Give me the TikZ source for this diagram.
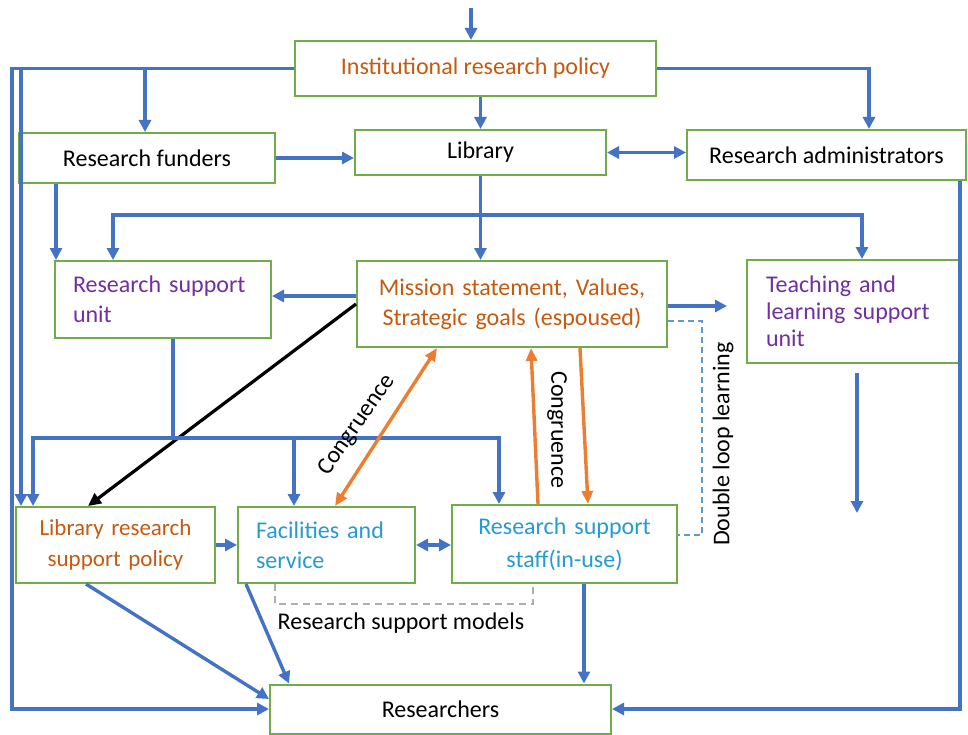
\documentclass[tikz,border=0pt]{standalone}
\usepackage{fontspec}
\setmainfont{Carlito}
\usetikzlibrary{arrows.meta,calc}
\definecolor{boxgreen}{RGB}{112,173,71}
\definecolor{flowblue}{RGB}{68,114,196}
\definecolor{txtorange}{RGB}{197,90,17}
\definecolor{arrorange}{RGB}{237,125,49}
\definecolor{txtpurple}{RGB}{112,48,160}
\definecolor{txtcyan}{RGB}{38,155,210}
\definecolor{bracketgray}{RGB}{175,175,175}
\definecolor{loopblue}{RGB}{91,155,213}

\begin{document}
\begin{tikzpicture}[x=1pt,y=-1pt,
  every node/.style={font=\fontsize{24}{30}\selectfont},
  box/.style={draw=boxgreen, line width=2pt, inner sep=0pt, fill=white},
  flow/.style={draw=flowblue, line width=3.4pt, -{Triangle[length=12pt,width=12pt]}},
  flowtwo/.style={draw=flowblue, line width=3.4pt, {Triangle[length=12pt,width=12pt]}-{Triangle[length=12pt,width=12pt]}},
  bus/.style={draw=flowblue, line width=3.4pt},
  congr/.style={draw=arrorange, line width=3.4pt, -{Triangle[length=13pt,width=11pt]}},
  congrtwo/.style={draw=arrorange, line width=3.4pt, {Triangle[length=13pt,width=11pt]}-{Triangle[length=13pt,width=11pt]}},
  policyline/.style={draw=black, line width=3.2pt, -{Triangle[length=13pt,width=12pt]}},
  loopline/.style={draw=loopblue, line width=1.4pt, dash pattern=on 6pt off 4pt},
  modelline/.style={draw=bracketgray, line width=2pt, dash pattern=on 7pt off 5pt},
]
\useasboundingbox (0,0) rectangle (968,735);

% ---------------- boxes ----------------
\node[box, minimum width=361, minimum height=55, text=txtorange] (inst) at (475.5,68.5) {Institutional research policy};
\node[box, minimum width=256, minimum height=50] (funders) at (147,158) {Research funders};
\node[box, minimum width=251, minimum height=45] (lib) at (480.5,152.5) {Library};
\node[box, minimum width=279, minimum height=50] (admin) at (826.5,155) {Research administrators};
\node[box, minimum width=216, minimum height=77, text=txtpurple, align=left, text width=180] (rsu) at (163,299.5) {Research support\\unit};
\node[box, minimum width=310, minimum height=86, text=txtorange, align=center, text width=292] (mission) at (512,304) {Mission statement, Values,\\Strategic goals (espoused)};
\node[box, minimum width=212, minimum height=103, text=txtpurple, align=left, text width=174,
      font=\fontsize{24}{27}\selectfont] (teach) at (853,311.5) {Teaching and\\learning support\\unit};
\node[box, minimum width=199, minimum height=76, text=txtorange, align=center, text width=180,
      font=\fontsize{23}{31}\selectfont] (lrsp) at (115.5,545) {Library research\\support policy};
\node[box, minimum width=177, minimum height=76, text=txtcyan, align=left, text width=141] (fac) at (326.5,545) {Facilities and\\service};
\node[box, minimum width=225, minimum height=78, text=txtcyan, align=center, text width=205,
      font=\fontsize{24}{33}\selectfont] (staff) at (564.5,544) {Research support\\staff(in-use)};
\node[box, minimum width=341, minimum height=49] (res) at (440.5,709) {Researchers};

% ---------------- reference points for connectors ----------------
\coordinate (entry) at (471,8);
\coordinate (outerL) at (12,0);
\coordinate (innerL) at (21,0);
\coordinate (fundtap) at (145,0);
\coordinate (admintap) at (869,0);
\coordinate (rsutap) at (56,0);
\coordinate (libbusL) at (113,215);
\coordinate (libbusR) at (862,215);
\coordinate (missionR) at (727,306);
\coordinate (loopA) at (702,321);
\coordinate (loopB) at (702,535);
\coordinate (unitdown) at (173,0);
\coordinate (busL) at (33,438);
\coordinate (busR) at (499,438);
\coordinate (factap) at (294,0);
\coordinate (policytap) at (88,0);
\coordinate (teachA) at (857,373);
\coordinate (teachB) at (857,513);
\coordinate (adminR) at (960,0);
\coordinate (stafftap) at (584,0);
\coordinate (modelL) at (275,604);
\coordinate (modelR) at (533,604);

% ---------------- institutional level ----------------
\draw[flow] (entry) -- (entry |- inst.north);
\draw[flow] (lib.north |- inst.south) -- (lib.north);
\draw[flow] (inst.west) -- (inst.west -| outerL) -- (res.west -| outerL) -- (res.west);
\draw[flow] (inst.west -| innerL) -- (lrsp.north -| innerL);
\draw[flow] (inst.west -| fundtap) -- (funders.north -| fundtap);
\draw[flow] (inst.east) -- (inst.east -| admintap) -- (admin.north -| admintap);
\draw[flow] (funders.east) -- (funders.east -| lib.west);
\draw[flowtwo] (lib.east) -- (lib.east -| admin.west);
\draw[flow] (funders.south -| rsutap) -- (rsu.north -| rsutap);

% ---------------- library level ----------------
\draw[flow] (lib.south) -- (lib.south |- mission.north);
\draw[flow] (libbusL -| lib.south) -- (libbusL) -- (libbusL |- rsu.north);
\draw[flow] (libbusR -| lib.south) -- (libbusR) -- (libbusR |- teach.north);
\draw[flow] ([yshift=8pt]mission.west) -- ([yshift=8pt]mission.west -| rsu.east);
\draw[flow] (mission.east |- missionR) -- (missionR);
\draw[policyline] (mission.west) -- (lrsp.north -| policytap);
\draw[loopline] (mission.east |- loopA) -- (loopA) -- (loopB) -- (loopB -| staff.east);
\node[rotate=90] (looptext) at (723,444) {Double loop learning};
\draw[flow] (teachA) -- (teachB);

% ---------------- research support unit bus ----------------
\draw[bus] (rsu.south -| unitdown) -- (busL -| unitdown);
\draw[flow] (busR) -- (busL) -- (busL |- lrsp.north);
\draw[flow] (busL) -- (busR) -- (busR |- staff.north);
\draw[flow] (busL -| factap) -- (fac.north -| factap);

% ---------------- congruence ----------------
\draw[congrtwo] ([xshift=8.5pt]fac.north) -- ([xshift=-75pt]mission.south);
\node[rotate=55] (congA) at (357,425) {Congruence};
\draw[congr] ([xshift=-26.5pt]staff.north) -- ([xshift=19pt]mission.south);
\draw[congr] ([xshift=68pt]mission.south) -- ([xshift=23.5pt]staff.north);
\node[rotate=-90] (congB) at (557,430) {Congruence};

% ---------------- support level ----------------
\draw[flow] (lrsp.east) -- (fac.west);
\draw[flowtwo] (fac.east) -- (fac.east -| staff.west);
\draw[modelline] (modelL |- fac.south) -- (modelL) -- (modelR) -- (modelR |- staff.south);
\node (models) at (401,623) {Research support models};

% ---------------- towards researchers ----------------
\draw[flow] ([xshift=-29.5pt]lrsp.south) -- ([yshift=10pt]res.west);
\draw[flow] ([xshift=9pt]fac.south west) -- ([xshift=20pt]res.north west);
\draw[flow] (staff.south -| stafftap) -- (res.north -| stafftap);
\draw[flow] (admin.south -| adminR) -- (adminR |- res.east) -- (res.east);
\end{tikzpicture}
\end{document}
